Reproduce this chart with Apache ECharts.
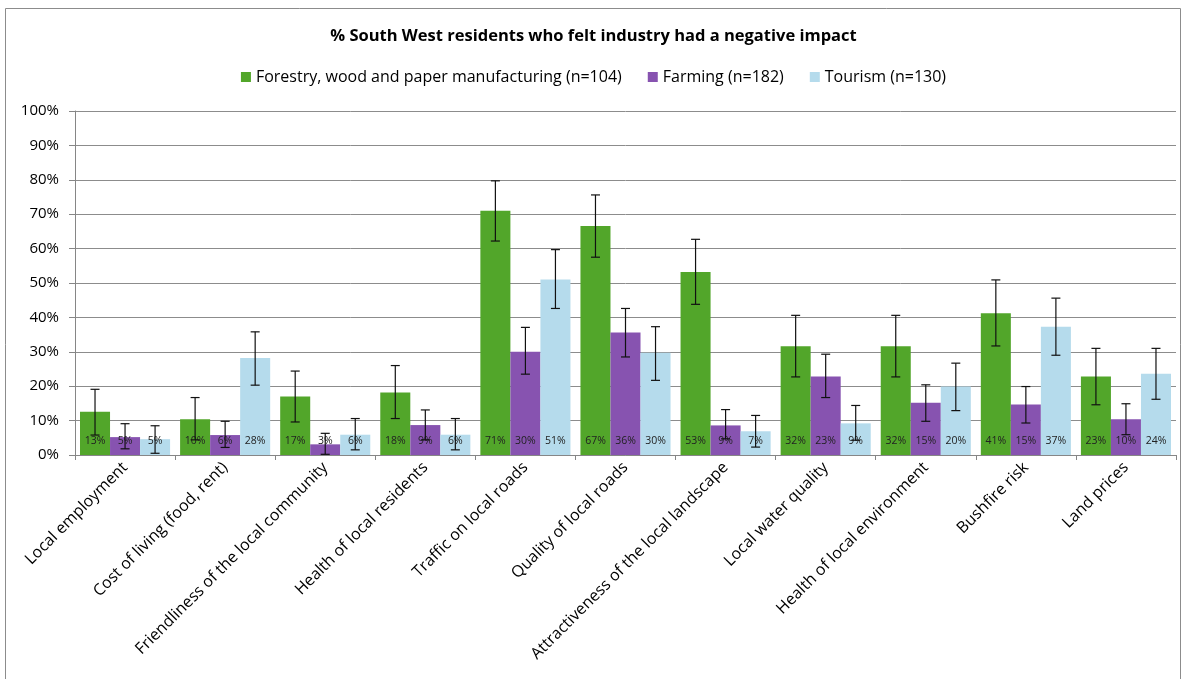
<!DOCTYPE html>
<html><head><meta charset="utf-8">
<script src="https://cdn.jsdelivr.net/npm/echarts@6/dist/echarts.min.js"></script>
<style>html,body{margin:0;padding:0;background:#fff}#c{width:1187px;height:679px}</style>
</head><body><div id="c"></div>
<script>
const categories = ["Local employment","Cost of living (food, rent)","Friendliness of the local community","Health of local residents","Traffic on local roads","Quality of local roads","Attractiveness of the local landscape","Local water quality","Health of local environment","Bushfire risk","Land prices"];
const seriesNames = ["Forestry, wood and paper manufacturing (n=104)","Farming (n=182)","Tourism (n=130)"];
const forestry = [12.6,10.4,17.0,18.2,71.0,66.6,53.2,31.6,31.6,41.2,22.8];
const farming  = [5.2,5.8,3.1,8.7,30.0,35.6,8.6,22.8,15.2,14.7,10.4];
const tourism  = [4.6,28.2,5.9,5.9,51.0,29.7,6.9,9.2,19.9,37.3,23.6];
const forestryLow  = [5.8,4.4,9.6,10.6,62.2,57.5,43.8,22.7,22.7,31.7,14.6];
const forestryHigh = [19.1,16.7,24.4,26.0,79.7,75.6,62.7,40.6,40.6,50.9,31.0];
const farmingLow   = [1.8,2.2,0.2,4.4,23.5,28.5,4.7,16.7,9.8,9.3,5.9];
const farmingHigh  = [9.1,9.8,6.3,13.1,37.1,42.6,13.2,29.3,20.4,19.9,14.9];
const tourismLow   = [0.5,20.3,1.5,1.5,42.6,21.7,2.3,4.3,12.9,29.0,16.2];
const tourismHigh  = [8.5,35.8,10.6,10.6,59.7,37.3,11.5,14.4,26.7,45.6,31.0];
const yTicks = [0,10,20,30,40,50,60,70,80,90,100];

const colors = ['#52A62A','#8753B0','#B5DBEC'];
const values = [forestry, farming, tourism];
const lows = [forestryLow, farmingLow, tourismLow];
const highs = [forestryHigh, farmingHigh, tourismHigh];
const font = '"Open Sans", sans-serif';

const barSeries = values.map((v,i)=>({
  name: seriesNames[i], type:'bar', data:v,
  barGap:'0%', barCategoryGap:'10%',
  itemStyle:{color:colors[i]},
  label:{show:true, position:'insideBottom', distance:8, fontSize:10.5, fontFamily:font, color:'#222',
    formatter:p=>Math.round(p.value)+'%'}
}));

const errSeries = values.map((v,i)=>({
  type:'custom', name:'err'+i, z:10,
  data: v.map((_,k)=>[k, lows[i][k], highs[i][k]]),
  renderItem:(params, api)=>{
    const k = api.value(0);
    const lo = api.coord([k, api.value(1)]);
    const hi = api.coord([k, api.value(2)]);
    const band = api.size([1,0])[0];
    const bw = band*0.9/3;
    const x = lo[0] + (i-1)*bw;
    const cap = 4.5;
    const st = {stroke:'#111', lineWidth:1.2};
    return {type:'group', children:[
      {type:'line', shape:{x1:x,y1:hi[1],x2:x,y2:lo[1]}, style:st},
      {type:'line', shape:{x1:x-cap,y1:hi[1],x2:x+cap,y2:hi[1]}, style:st},
      {type:'line', shape:{x1:x-cap,y1:lo[1],x2:x+cap,y2:lo[1]}, style:st}
    ]};
  }
}));

const chart = echarts.init(document.getElementById('c'));
chart.setOption({
  animation:false,
  graphic:[{type:'rect', shape:{x:5.5,y:8.5,width:1175,height:680}, style:{fill:'none', stroke:'#8c8c8c', lineWidth:1}}],
  title:{text:'% South West residents who felt industry had a negative impact', left:'center', top:23,
    textStyle:{fontSize:16.5, fontWeight:'bold', fontFamily:font, color:'#000'}},
  legend:{data:seriesNames, top:64, left:'center', itemWidth:10, itemHeight:10, itemGap:26, icon:'rect',
    textStyle:{fontSize:16, fontFamily:font, color:'#000'}},
  grid:{left:75, right:11, top:111, bottom:224, containLabel:false},
  xAxis:{type:'category', data:categories,
    axisLine:{lineStyle:{color:'#868686'}},
    axisTick:{show:true, length:5, lineStyle:{color:'#868686'}},
    axisLabel:{interval:0, rotate:45, fontSize:16, fontFamily:font, color:'#000', margin:10}},
  yAxis:{type:'value', min:0, max:100, interval:10,
    axisLine:{show:true, lineStyle:{color:'#868686'}},
    axisTick:{show:true, length:6, lineStyle:{color:'#868686'}},
    axisLabel:{formatter:v=>v+'%', fontSize:15, fontFamily:font, color:'#000', margin:16},
    splitLine:{lineStyle:{color:'#8c8c8c', width:1}}},
  series:[...barSeries, ...errSeries]
});
</script></body></html>
